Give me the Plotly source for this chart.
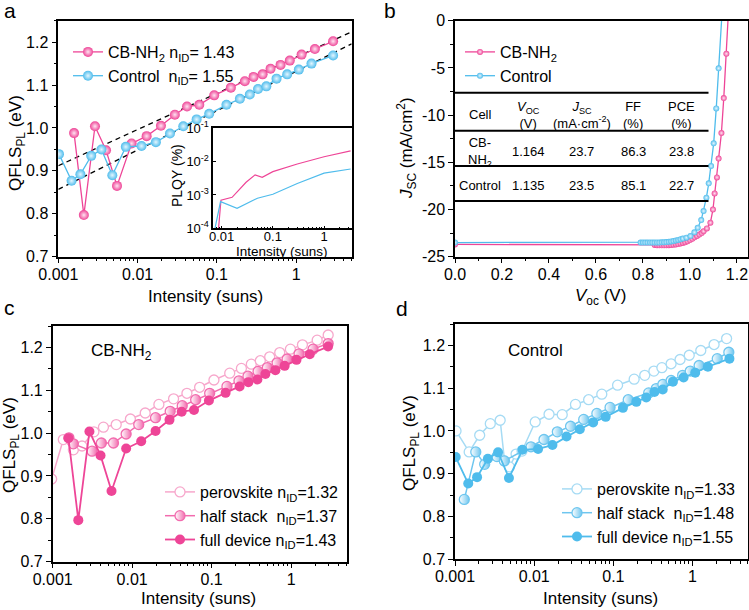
import plotly.graph_objects as go

W, H = 749, 610
FONT = "Liberation Sans, Arial, Helvetica, sans-serif"
PINK = "#EE4597"
BLUE = "#4FBCEC"
PINK_L = "#F7A8CC"
PINK_M = "#F26BAE"
BLUE_L = "#A6DBF4"
BLUE_M = "#6EC6EF"

# ---------------- panel a : QFLS vs intensity ----------------
cb_int = [0.00158, 0.0021, 0.0029, 0.0040, 0.0055, 0.0084, 0.013, 0.0197, 0.0295, 0.042,
          0.060, 0.0925, 0.150, 0.225, 0.290, 0.377, 0.475, 0.635, 0.83, 1.17, 1.72, 2.92]
cb_qfls = [0.988, 0.797, 1.004, 0.948, 0.865, 0.964, 0.981, 1.005, 1.031, 1.050,
           1.054, 1.076, 1.094, 1.109, 1.119, 1.125, 1.138, 1.147, 1.157, 1.171, 1.184, 1.202]
ctrl_int = [0.00102, 0.00147, 0.0019, 0.0026, 0.0035, 0.0048, 0.0071, 0.0112, 0.017, 0.0256,
            0.0377, 0.0555, 0.080, 0.132, 0.195, 0.26, 0.33, 0.42, 0.565, 0.77, 1.08, 1.56, 2.92]
ctrl_qfls = [0.939, 0.877, 0.892, 0.935, 0.950, 0.890, 0.956, 0.958, 0.967, 0.987,
             1.004, 1.020, 1.033, 1.054, 1.068, 1.078, 1.091, 1.097, 1.115, 1.125, 1.136, 1.150, 1.169]
fit_int = [0.001, 5.0]
fit_cb = [0.912, 1.224]
fit_ctrl = [0.857, 1.196]

# inset PLQY
plqy_cb_int = [0.0086, 0.0097, 0.016, 0.030, 0.045, 0.062, 0.10, 0.30, 1.0, 3.3]
plqy_cb = [8e-5, 7e-4, 8.5e-4, 2.4e-3, 4.0e-3, 3.4e-3, 5.0e-3, 8.5e-3, 1.4e-2, 2.1e-2]
plqy_ctrl_int = [0.0072, 0.0095, 0.020, 0.050, 0.10, 0.30, 1.0, 3.3]
plqy_ctrl = [8e-5, 6.3e-4, 4.0e-4, 8.0e-4, 1.05e-3, 2.2e-3, 4.5e-3, 6.0e-3]

# ---------------- panel b : J-V ----------------
jv_cb_v = [0.0, 0.85, 0.86, 0.87, 0.88, 0.89, 0.90, 0.91, 0.92, 0.93, 0.94, 0.95, 0.96, 0.97,
           0.98, 0.99, 1.00, 1.01, 1.02, 1.03, 1.04, 1.05, 1.058, 1.072, 1.087, 1.098, 1.105,
           1.115, 1.122, 1.134, 1.144, 1.155, 1.164]
jv_cb_j = [-23.7, -23.75, -23.78, -23.8, -23.8, -23.8, -23.8, -23.78, -23.76, -23.74, -23.7,
           -23.66, -23.6, -23.54, -23.46, -23.36, -23.24, -23.1, -22.95, -22.8, -22.65, -22.5,
           -22.3, -22.0, -21.4, -20.0, -18.3, -16.6, -14.6, -11.9, -8.2, -3.5, 1.0]
jv_ctrl_v = [0.0, 0.79, 0.80, 0.81, 0.82, 0.83, 0.84, 0.85, 0.86, 0.87, 0.88, 0.89, 0.90, 0.91,
             0.92, 0.93, 0.94, 0.95, 0.96, 0.97, 0.985, 1.002, 1.019, 1.033, 1.048, 1.058, 1.07,
             1.08, 1.09, 1.101, 1.112, 1.122, 1.137]
jv_ctrl_j = [-23.5, -23.5, -23.5, -23.5, -23.5, -23.5, -23.5, -23.5, -23.5, -23.5, -23.48, -23.47,
             -23.45, -23.42, -23.38, -23.34, -23.28, -23.22, -23.15, -23.08, -22.98, -22.81, -22.42,
             -21.93, -21.12, -20.16, -18.75, -17.23, -15.4, -12.99, -9.29, -5.05, 1.0]
table_rule_j = [-7.63, -11.65, -15.39, -19.10]
table_cols = ["Cell", "<i>V</i><sub>OC</sub><br>(V)", "<i>J</i><sub>SC</sub><br>(mA·cm<sup>-2</sup>)",
              "FF<br>(%)", "PCE<br>(%)"]
table_cb = ["CB-<br>NH<sub>2</sub>", "1.164", "23.7", "86.3", "23.8"]
table_ctrl = ["Control", "1.135", "23.5", "85.1", "22.7"]

# ---------------- panel c : CB-NH2 stacks ----------------
c_pero_int = [0.00097, 0.00136, 0.00182, 0.00234, 0.0033, 0.00435, 0.0063, 0.0095, 0.0146, 0.0217,
              0.0332, 0.0489, 0.0706, 0.107, 0.169, 0.237, 0.316, 0.41, 0.538, 0.72, 0.98,
              1.39, 2.13, 2.93]
c_pero_q = [0.893, 0.985, 0.961, 0.970, 1.003, 1.014, 1.020, 1.033, 1.047, 1.067,
            1.080, 1.093, 1.107, 1.124, 1.140, 1.151, 1.161, 1.169, 1.178, 1.188, 1.196,
            1.206, 1.217, 1.229]
c_half_int = [0.0016, 0.00182, 0.00313, 0.0041, 0.00582, 0.0084, 0.0121, 0.0197, 0.0301, 0.0427,
              0.063, 0.0945, 0.156, 0.221, 0.287, 0.384, 0.503, 0.667, 0.891, 1.26, 1.89, 2.93]
c_half_q = [0.989, 0.975, 0.958, 0.977, 0.977, 0.998, 1.020, 1.036, 1.051, 1.064,
            1.078, 1.093, 1.109, 1.122, 1.133, 1.144, 1.153, 1.164, 1.173, 1.185, 1.196, 1.209]

# ---------------- panel d : Control stacks ----------------
d_pero_int = [0.00103, 0.00151, 0.00205, 0.00279, 0.00372, 0.00422, 0.00487, 0.0059, 0.00702,
              0.0103, 0.0154, 0.0226, 0.0332, 0.0487, 0.0714, 0.113, 0.183, 0.249, 0.325,
              0.41, 0.536, 0.695, 0.908, 1.27, 1.87, 2.69]
d_pero_q = [1.000, 0.951, 0.990, 1.017, 1.025, 0.930, 0.916, 0.946, 0.953,
            1.021, 1.039, 1.038, 1.062, 1.073, 1.086, 1.107, 1.121, 1.130, 1.140,
            1.148, 1.157, 1.167, 1.177, 1.188, 1.202, 1.216]
d_half_int = [0.00131, 0.00183, 0.00237, 0.00339, 0.0042, 0.0091, 0.0133, 0.0196, 0.0288, 0.0422,
              0.0619, 0.0908, 0.154, 0.279, 0.348, 0.422, 0.536, 0.75, 0.935, 1.21, 2.05, 2.87]
d_half_q = [0.840, 0.951, 0.922, 0.940, 0.930, 0.963, 0.980, 0.998, 1.011, 1.027,
            1.041, 1.055, 1.073, 1.089, 1.099, 1.109, 1.118, 1.130, 1.140, 1.153, 1.169, 1.184]

qfls_ticks = [0.7, 0.8, 0.9, 1.0, 1.1, 1.2]
int_ticks = [0.001, 0.01, 0.1, 1]
int_ticktext = ["0.001", "0.01", "0.1", "1"]


def px(x):
    return x / W


def py(y):
    return 1 - y / H


def ball(color, center, size=10):
    return dict(symbol="circle", size=size, color=color,
                gradient=dict(type="radial", color=center), line=dict(width=0))


fig = go.Figure()

# panel a
fig.add_trace(go.Scatter(x=fit_int, y=fit_cb, mode="lines", xaxis="x", yaxis="y",
                         line=dict(color="black", width=1.3, dash="5px,4px"), showlegend=False))
fig.add_trace(go.Scatter(x=fit_int, y=fit_ctrl, mode="lines", xaxis="x", yaxis="y",
                         line=dict(color="black", width=1.3, dash="5px,4px"), showlegend=False))
fig.add_trace(go.Scatter(x=cb_int, y=cb_qfls, mode="lines+markers", xaxis="x", yaxis="y",
                         name="CB-NH<sub>2</sub> n<sub>ID</sub>= 1.43", legend="legend",
                         line=dict(color=PINK, width=1.3), marker=ball(PINK, "#FFE3F1")))
fig.add_trace(go.Scatter(x=ctrl_int, y=ctrl_qfls, mode="lines+markers", xaxis="x", yaxis="y",
                         name="Control  n<sub>ID</sub>= 1.55", legend="legend",
                         line=dict(color=BLUE, width=1.3), marker=ball(BLUE, "#E3F6FF")))
# inset
fig.add_trace(go.Scatter(x=plqy_cb_int, y=plqy_cb, mode="lines", xaxis="x5", yaxis="y5",
                         line=dict(color=PINK, width=1.2), showlegend=False))
fig.add_trace(go.Scatter(x=plqy_ctrl_int, y=plqy_ctrl, mode="lines", xaxis="x5", yaxis="y5",
                         line=dict(color=BLUE, width=1.2), showlegend=False))

# panel b
fig.add_trace(go.Scatter(x=jv_cb_v, y=jv_cb_j, mode="lines+markers", xaxis="x2", yaxis="y2",
                         name="CB-NH<sub>2</sub>", legend="legend2",
                         line=dict(color=PINK, width=1.3), marker=ball(PINK, "#FFE3F1", 6)))
fig.add_trace(go.Scatter(x=jv_ctrl_v, y=jv_ctrl_j, mode="lines+markers", xaxis="x2", yaxis="y2",
                         name="Control", legend="legend2",
                         line=dict(color=BLUE, width=1.3), marker=ball(BLUE, "#E3F6FF", 6)))

# panel c
fig.add_trace(go.Scatter(x=c_pero_int, y=c_pero_q, mode="lines+markers", xaxis="x3", yaxis="y3",
                         name="perovskite n<sub>ID</sub>=1.32", legend="legend3",
                         line=dict(color=PINK_L, width=1.5),
                         marker=dict(symbol="circle", size=10, color="white", line=dict(color=PINK_L, width=1.3))))
fig.add_trace(go.Scatter(x=c_half_int, y=c_half_q, mode="lines+markers", xaxis="x3", yaxis="y3",
                         name="half stack  n<sub>ID</sub>=1.37", legend="legend3",
                         line=dict(color=PINK_M, width=1.5),
                         marker=dict(symbol="circle", size=10, color="white",
                                     gradient=dict(type="horizontal", color=PINK_M),
                                     line=dict(color=PINK_M, width=1.3))))
fig.add_trace(go.Scatter(x=cb_int, y=cb_qfls, mode="lines+markers", xaxis="x3", yaxis="y3",
                         name="full device n<sub>ID</sub>=1.43", legend="legend3",
                         line=dict(color=PINK, width=1.8),
                         marker=dict(symbol="circle", size=10, color=PINK, line=dict(width=0))))

# panel d
fig.add_trace(go.Scatter(x=d_pero_int, y=d_pero_q, mode="lines+markers", xaxis="x4", yaxis="y4",
                         name="perovskite n<sub>ID</sub>=1.33", legend="legend4",
                         line=dict(color=BLUE_L, width=1.5),
                         marker=dict(symbol="circle", size=10, color="white", line=dict(color=BLUE_L, width=1.3))))
fig.add_trace(go.Scatter(x=d_half_int, y=d_half_q, mode="lines+markers", xaxis="x4", yaxis="y4",
                         name="half stack  n<sub>ID</sub>=1.48", legend="legend4",
                         line=dict(color=BLUE_M, width=1.5),
                         marker=dict(symbol="circle", size=10, color="white",
                                     gradient=dict(type="horizontal", color=BLUE_M),
                                     line=dict(color=BLUE_M, width=1.3))))
fig.add_trace(go.Scatter(x=ctrl_int, y=ctrl_qfls, mode="lines+markers", xaxis="x4", yaxis="y4",
                         name="full device n<sub>ID</sub>=1.55", legend="legend4",
                         line=dict(color=BLUE, width=1.8),
                         marker=dict(symbol="circle", size=10, color=BLUE, line=dict(width=0))))

axis_common = dict(showline=True, linecolor="black", linewidth=1.5, mirror=True,
                   ticks="outside", ticklen=5, tickwidth=1.3, tickcolor="black",
                   showgrid=False, zeroline=False, automargin=False,
                   tickfont=dict(family=FONT, size=16, color="black"))

log_minor = [m * d for d in [0.001, 0.01, 0.1, 1] for m in range(2, 10)]


def int_axis(domain, anchor):
    return dict(axis_common, type="log", range=[-3, 0.70], domain=domain, anchor=anchor,
                tickvals=int_ticks, ticktext=int_ticktext, ticklabelstandoff=-3,
                minor=dict(ticks="outside", ticklen=3, tickwidth=1, tickcolor="black",
                           tickmode="array", tickvals=log_minor, showgrid=False))


def qfls_axis(domain, anchor):
    return dict(axis_common, range=[0.7, 1.25], domain=domain, anchor=anchor,
                tickvals=qfls_ticks, ticktext=["%.1f" % v for v in qfls_ticks],
                minor=dict(ticks="outside", ticklen=3, tickwidth=1, tickcolor="black",
                           dtick=0.05, tick0=0.7, showgrid=False))


leg_common = dict(xanchor="left", yanchor="top", bgcolor="rgba(0,0,0,0)", borderwidth=0,
                  font=dict(family=FONT, size=16, color="black"), itemwidth=30)

fig.update_layout(
    template="none",
    width=W, height=H, autosize=False,
    margin=dict(l=0, r=0, t=0, b=0, autoexpand=False),
    paper_bgcolor="white", plot_bgcolor="white",
    font=dict(family=FONT, size=16, color="black"),
    xaxis=int_axis([px(58.3), px(351.7)], "y"),
    yaxis=qfls_axis([py(256.7), py(20.7)], "x"),
    xaxis2=dict(axis_common, range=[0, 1.245], domain=[px(455), px(747.5)], anchor="y2",
                dtick=0.2, tick0=0, tickformat=".1f", ticklabelstandoff=-3,
                minor=dict(ticks="outside", ticklen=3, tickwidth=1, tickcolor="black", dtick=0.1, showgrid=False)),
    yaxis2=dict(axis_common, range=[-25, 0], domain=[py(256.7), py(20.7)], anchor="x2",
                tickvals=[-25, -20, -15, -10, -5, 0], ticktext=["-25", "-20", "-15", "-10", "-5", "0"],
                minor=dict(ticks="outside", ticklen=3, tickwidth=1, tickcolor="black", dtick=2.5, tick0=0, showgrid=False)),
    xaxis3=int_axis([px(52.7), px(346.7)], "y3"),
    yaxis3=qfls_axis([py(561.7), py(326)], "x3"),
    xaxis4=int_axis([px(455), px(748)], "y4"),
    yaxis4=qfls_axis([py(559.3), py(324)], "x4"),
    xaxis5=dict(axis_common, type="log", range=[-2.163, 0.54], domain=[px(213.3), px(351.7)], anchor="y5",
                tickvals=[0.01, 0.1, 1], ticktext=["0.01", "0.1", "1"], ticks="inside", ticklen=3,
                ticklabelstandoff=-5,
                tickfont=dict(family=FONT, size=13, color="black"),
                minor=dict(ticks="inside", ticklen=2, tickwidth=1, tickcolor="black",
                           tickmode="array", tickvals=log_minor, showgrid=False)),
    yaxis5=dict(axis_common, type="log", range=[-4, -1], domain=[py(228.3), py(128.3)], anchor="x5",
                tickvals=[1e-4, 1e-3, 1e-2, 1e-1], ticks="inside", ticklen=3,
                ticktext=["10<sup>-4</sup>", "10<sup>-3</sup>", "10<sup>-2</sup>", "10<sup>-1</sup>"],
                tickfont=dict(family=FONT, size=13, color="black")),
    legend=dict(leg_common, x=px(68), y=py(35)),
    legend2=dict(leg_common, x=px(460), y=py(35)),
    legend3=dict(leg_common, x=px(160), y=py(475)),
    legend4=dict(leg_common, x=px(557), y=py(472)),
)

# table rules in panel b
for j in table_rule_j:
    fig.add_shape(type="line", xref="x2", yref="y2", x0=0, x1=1.079, y0=j, y1=j,
                  line=dict(color="black", width=2))

anns = []


def ann(text, x, y, size=16, angle=0, xanchor="center", yanchor="middle"):
    anns.append(dict(text=text, x=px(x), y=py(y), xref="paper", yref="paper", showarrow=False,
                     textangle=angle, xanchor=xanchor, yanchor=yanchor,
                     font=dict(family=FONT, size=size, color="black")))


# panel letters
ann("a", 2, 11, 21, xanchor="left")
ann("b", 382, 11, 21, xanchor="left")
ann("c", 2, 307, 21, xanchor="left")
ann("d", 394, 308, 21, xanchor="left")

# axis titles
ann("Intensity (suns)", 205, 297, 17)
ann("QFLS<sub>PL</sub> (eV)", 17, 143, 17, angle=-90)
ann("<i>V</i><sub>oc</sub> (V)", 600, 297, 17)
ann("<i>J</i><sub>SC</sub> (mA/cm<sup>2</sup>)", 406, 148, 17, angle=-90)
ann("Intensity (suns)", 198, 598, 17)
ann("QFLS<sub>PL</sub> (eV)", 11, 445, 17, angle=-90)
ann("Intensity (suns)", 600, 598, 17)
ann("QFLS<sub>PL</sub> (eV)", 411, 443, 17, angle=-90)

# inset titles
ann("Intensity (suns)", 282, 252, 13.5)
ann("PLQY (%)", 177, 176, 14, angle=-90)

# panel labels
ann("CB-NH<sub>2</sub>", 121, 352, 17)
ann("Control", 535, 351, 17)

# table text
col_x = [480, 528.3, 581.7, 633.3, 681.7]
for cx, t in zip(col_x, table_cols):
    ann(t, cx, 115, 13)
for cx, t in zip(col_x, table_cb):
    ann(t, cx, 151.5, 13)
for cx, t in zip(col_x, table_ctrl):
    ann(t, cx, 185.7, 13)

fig.update_layout(annotations=anns)

fig.write_html("out.html", config={"displayModeBar": False},
               post_script="document.body.style.margin='0px';document.body.style.overflow='hidden';")
